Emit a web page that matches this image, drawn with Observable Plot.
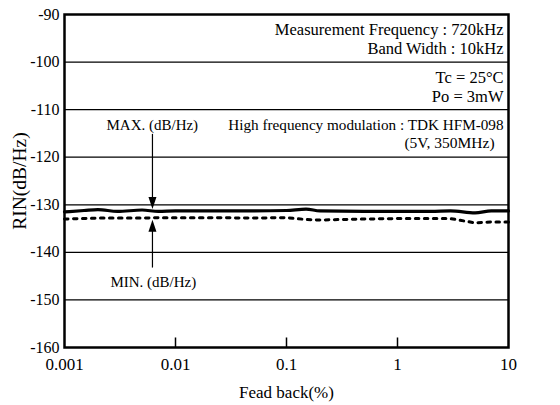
<!DOCTYPE html>
<html><head><meta charset="utf-8">
<script src="https://cdn.jsdelivr.net/npm/d3@7"></script>
<script src="https://cdn.jsdelivr.net/npm/@observablehq/plot@0.6"></script>
<style>body{margin:0;background:#fff}</style>
</head><body><div id="chart"></div>
<script>
const feedback = [0.001, 0.0015, 0.002, 0.003, 0.005, 0.007, 0.01, 0.02, 0.05, 0.1, 0.15, 0.2, 0.5, 1, 2, 3, 5, 7, 10];
const rinMax = [-131.5, -131.2, -131.0, -131.4, -131.1, -131.4, -131.3, -131.3, -131.3, -131.2, -130.9, -131.3, -131.4, -131.4, -131.4, -131.3, -131.7, -131.3, -131.3];
const rinMin = [-133.0, -132.9, -132.8, -132.8, -132.8, -132.7, -132.7, -132.7, -132.8, -132.7, -133.1, -133.2, -133.0, -132.9, -132.9, -132.9, -133.8, -133.6, -133.6];
const xTicks = [0.001, 0.01, 0.1, 1, 10];
const xTickLabels = ["0.001", "0.01", "0.1", "1", "10"];
const yTicks = [-160, -150, -140, -130, -120, -110, -100, -90];
const yTickLabels = ["-160", "-150", "-140", "-130", "-120", "-110", "-100", "-90"];
const notes = ["Measurement Frequency : 720kHz", "Band Width : 10kHz", "Tc = 25°C", "Po = 3mW"];
const noteY = [-93.1, -97.1, -103.2, -107.2];
const modNote = "High frequency modulation : TDK HFM-098";
const subNote = "(5V, 350MHz)";
const xLabel = "Fead back(%)";
const yLabel = "RIN(dB/Hz)";
const markerX = 0.0062;

const maxData = feedback.map((x, i) => ({x, y: rinMax[i]}));
const minData = feedback.map((x, i) => ({x, y: rinMin[i]}));
const noteData = notes.map((t, i) => ({t, y: noteY[i]}));

const FF = "Times New Roman, Liberation Serif, DejaVu Serif, serif";
const headUp = {draw(ctx, size) { const w = 4, h = 12; ctx.moveTo(0, -h / 2); ctx.lineTo(w, h / 2); ctx.lineTo(-w, h / 2); ctx.closePath(); }};
const headDown = {draw(ctx, size) { const w = 4, h = 12; ctx.moveTo(0, h / 2); ctx.lineTo(w, -h / 2); ctx.lineTo(-w, -h / 2); ctx.closePath(); }};

const chart = Plot.plot({
  width: 560, height: 405,
  marginLeft: 64, marginRight: 52, marginTop: 14, marginBottom: 58,
  style: {fontFamily: FF, fontSize: "16px", background: "white", color: "black"},
  x: {type: "log", domain: [0.001, 10]},
  y: {domain: [-160, -90]},
  marks: [
    Plot.ruleY(yTicks.slice(1, -1), {stroke: "black", strokeWidth: 1.2}),
    Plot.ruleX(xTicks.slice(1, -1), {y1: -160, y2: -158, stroke: "black", strokeWidth: 1.5}),
    Plot.axisY({ticks: yTicks, tickSize: 0, tickPadding: 5, label: null, fontSize: 16, fontFamily: FF, tickFormat: d => yTickLabels[yTicks.indexOf(d)]}),
    Plot.axisX({ticks: xTicks, tickSize: 0, tickPadding: 10, tickFormat: d => xTickLabels[xTicks.indexOf(d)], label: null, fontSize: 17, fontFamily: FF}),
    Plot.line(minData, {x: "x", y: "y", stroke: "black", strokeWidth: 3, strokeDasharray: "3.5,5.5"}),
    Plot.line(maxData, {x: "x", y: "y", stroke: "black", strokeWidth: 3.2, curve: "monotone-x"}),
    Plot.text(noteData, {x: 10, y: "y", text: "t", textAnchor: "end", dx: -5, fontSize: 16.5, fontFamily: FF}),
    Plot.text([modNote], {x: 10, y: -113.3, text: d => d, textAnchor: "end", dx: -5, fontSize: 15.2, fontFamily: FF}),
    Plot.text([subNote], {x: 10, y: -117.1, text: d => d, textAnchor: "middle", dx: -59, fontSize: 15.5, fontFamily: FF}),
    Plot.text(["MAX. (dB/Hz)"], {x: markerX, y: -113.3, text: d => d, textAnchor: "start", dx: -46, fontSize: 15, fontFamily: FF}),
    Plot.text(["MIN. (dB/Hz)"], {x: markerX, y: -146.3, text: d => d, textAnchor: "start", dx: -42, fontSize: 15, fontFamily: FF}),
    Plot.ruleX([markerX], {y1: -115.2, y2: -129, stroke: "black", strokeWidth: 1.2}),
    Plot.dot([markerX], {x: d => d, y: -129.6, symbol: headDown, r: 5, fill: "black", stroke: null}),
    Plot.ruleX([markerX], {y1: -134.8, y2: -143.3, stroke: "black", strokeWidth: 1.2}),
    Plot.dot([markerX], {x: d => d, y: -134.4, symbol: headUp, r: 5, fill: "black", stroke: null}),
    Plot.frame({stroke: "black", strokeWidth: 2.5}),
    Plot.text([xLabel], {frameAnchor: "bottom", dy: 50, text: d => d, fontSize: 17, fontFamily: FF}),
    Plot.text([yLabel], {frameAnchor: "left", textAnchor: "middle", dx: -45, rotate: -90, text: d => d, fontSize: 19.5, fontFamily: FF})
  ]
});
document.getElementById("chart").appendChild(chart);
</script>
</body></html>
